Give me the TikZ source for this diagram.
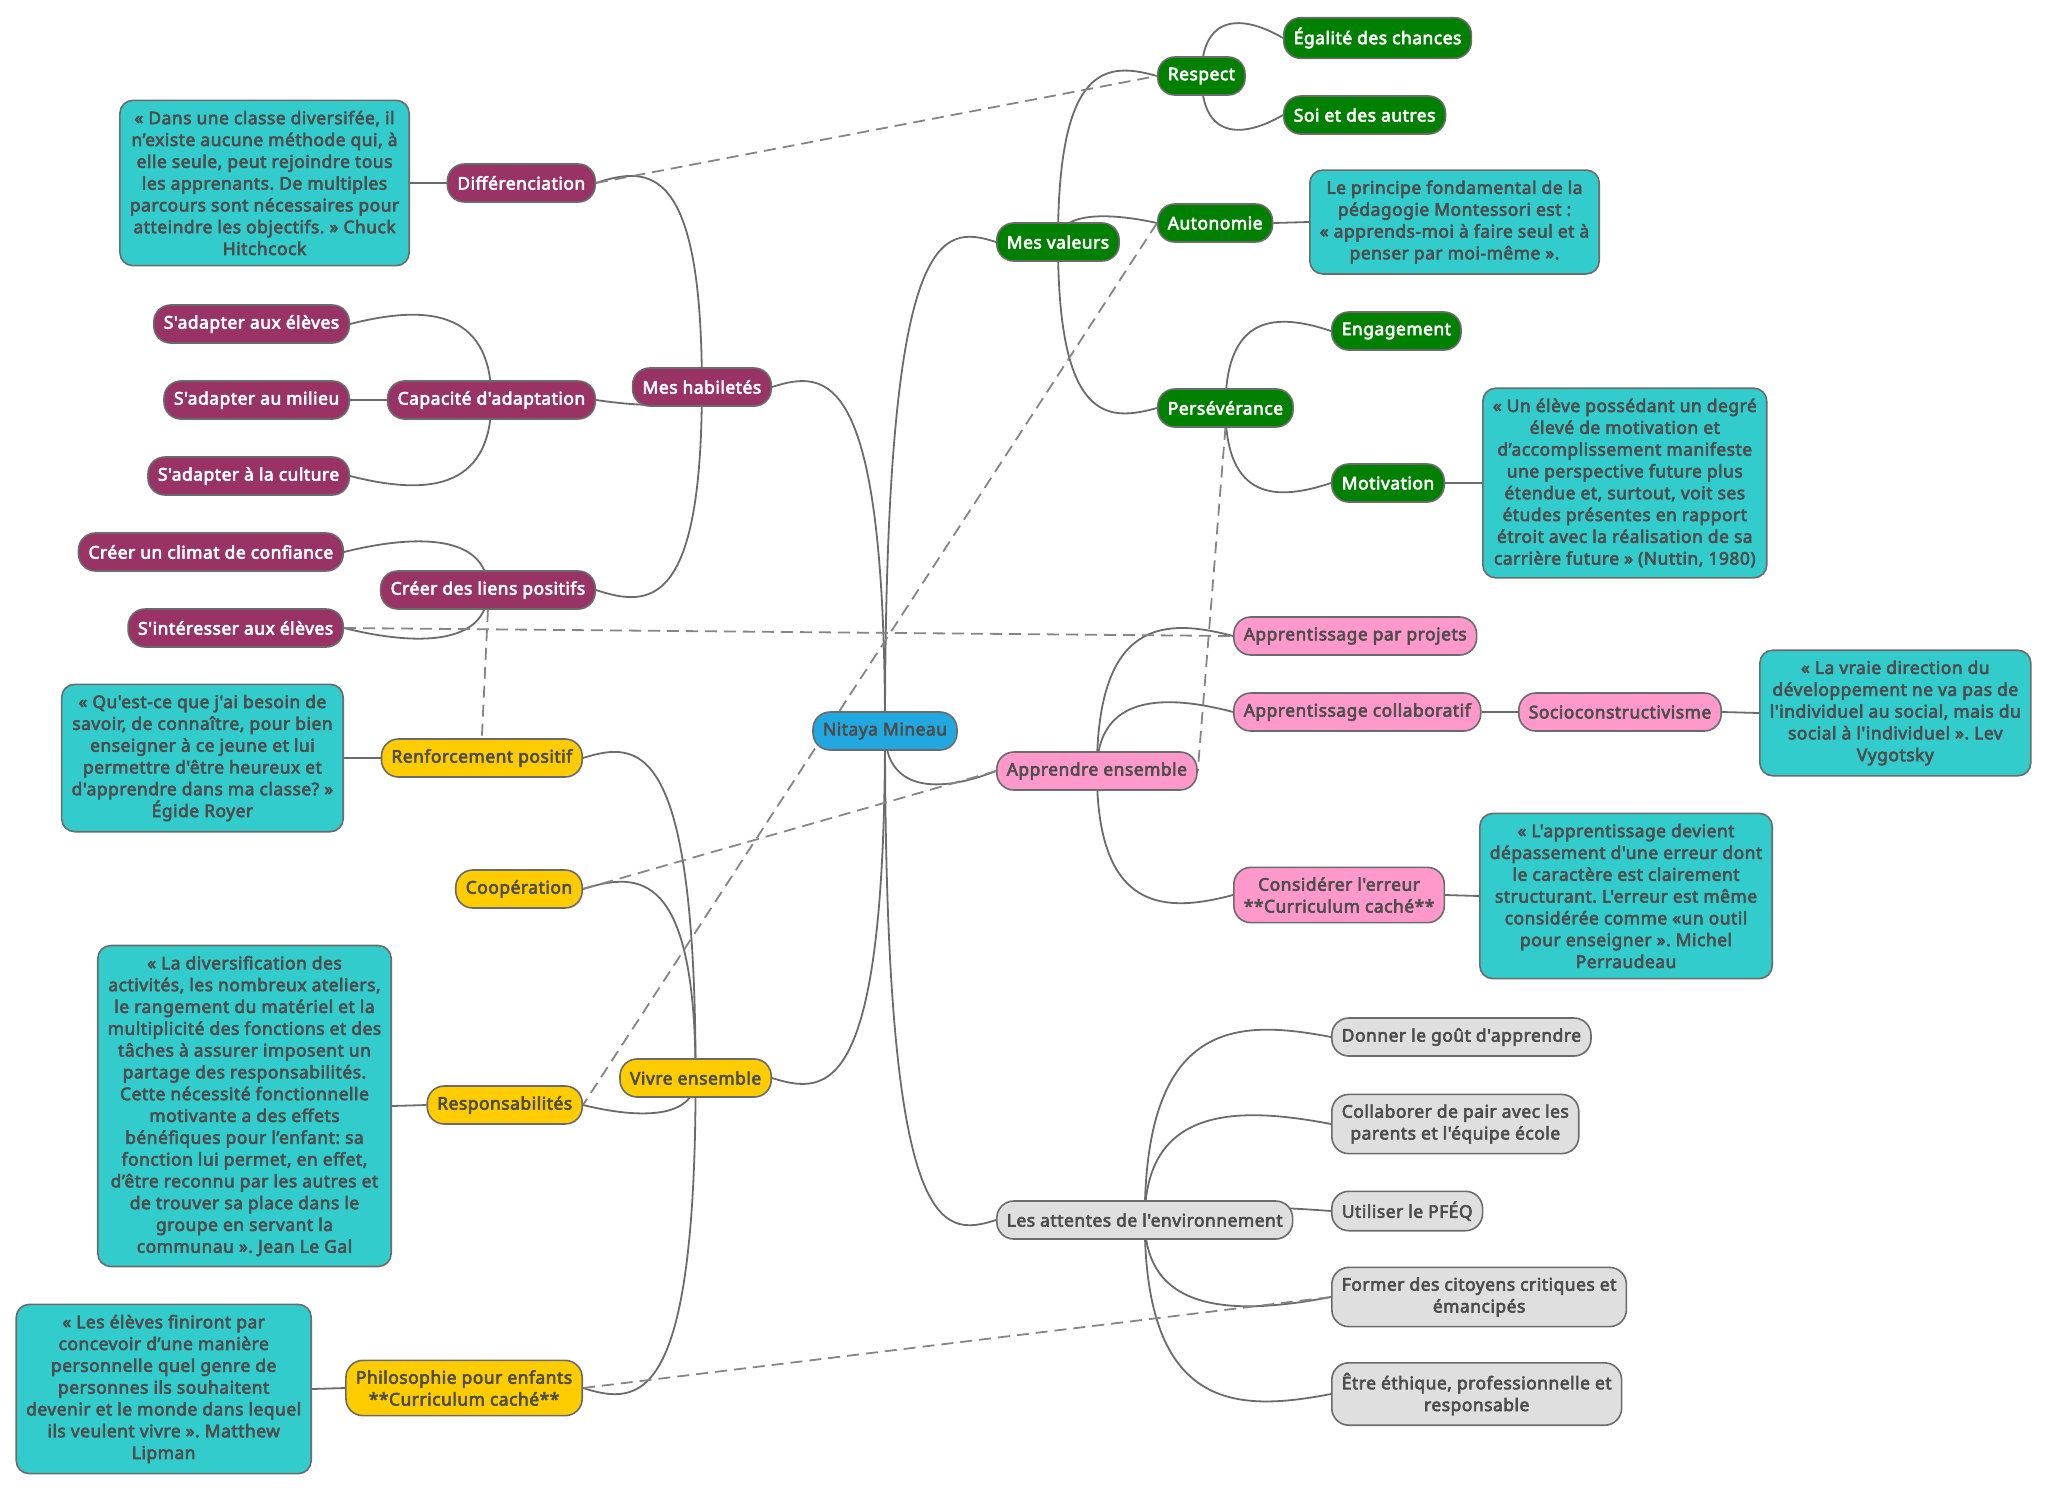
\documentclass[tikz,border=0pt]{standalone}
\usepackage{fontspec}
\newfontfamily\mmfont{Noto Sans}[AutoFakeBold=3.5, LetterSpace=3]
\usetikzlibrary{backgrounds,positioning}

\definecolor{linec}{HTML}{6B6B6B}
\definecolor{dashc}{HTML}{858585}
\definecolor{txtc}{HTML}{4D4D4D}
\definecolor{ccen}{HTML}{22A8E0}
\definecolor{cval}{HTML}{008000}
\definecolor{chab}{HTML}{993366}
\definecolor{cviv}{HTML}{FFCC00}
\definecolor{capp}{HTML}{FF99CC}
\definecolor{catt}{HTML}{DFDFDF}
\definecolor{ccit}{HTML}{33CCCC}

\tikzset{
	mm/.style={draw=linec, line width=1.6pt, rounded corners=17pt, inner xsep=10pt, inner ysep=10pt,
		minimum height=38pt, align=center, text=txtc, font=\mmfont\bfseries\fontsize{17.4}{21.8}\selectfont\frenchspacing},
	centre/.style={mm, fill=ccen},
	valeur/.style={mm, fill=cval, text=white},
	habilete/.style={mm, fill=chab, text=white},
	vivre/.style={mm, fill=cviv},
	apprendre/.style={mm, fill=capp},
	attente/.style={mm, fill=catt},
	citation/.style={mm, fill=ccit, rounded corners=13pt, inner ysep=10.5pt},
	lien/.style={draw=linec, line width=1.8pt},
	pointille/.style={draw=dashc, line width=1.8pt, dash pattern=on 12pt off 7pt},
}

\begin{document}
\begin{tikzpicture}[x=1pt, y=1pt]
	\useasboundingbox (0,0) rectangle (2048,-1492);

	\node[centre] (nm) at (885,-731) {Nitaya Mineau};

	\node[valeur, anchor=west] (mv) at (996,-242) {Mes valeurs};
	\node[valeur, anchor=west] (resp) at (1157,-76) {Respect};
	\node[valeur, anchor=west] (egal) at (1283,-38) {Égalité des chances};
	\node[valeur, anchor=west] (soi) at (1283,-115) {Soi et des autres};
	\node[valeur, anchor=west] (auto) at (1157,-223) {Autonomie};
	\node[citation, anchor=west] (qmont) at (1309,-222) {Le principe fondamental de la\\pédagogie Montessori est :\\« apprends-moi à faire seul et à\\penser par moi-même ».};
	\node[valeur, anchor=west] (pers) at (1157,-408) {Persévérance};
	\node[valeur, anchor=west] (enga) at (1331,-331) {Engagement};
	\node[valeur, anchor=west] (moti) at (1331,-483) {Motivation};
	\node[citation, anchor=west] (qnut) at (1482,-483) {« Un élève possédant un degré\\élevé de motivation et\\d’accomplissement manifeste\\une perspective future plus\\étendue et, surtout, voit ses\\études présentes en rapport\\étroit avec la réalisation de sa\\carrière future » (Nuttin, 1980)};

	\node[apprendre, anchor=west] (ae) at (996,-771) {Apprendre ensemble};
	\node[apprendre, anchor=west] (proj) at (1233,-636) {Apprentissage par projets};
	\node[apprendre, anchor=west] (collab) at (1233,-712) {Apprentissage collaboratif};
	\node[apprendre, anchor=west] (socio) at (1518,-712) {Socioconstructivisme};
	\node[citation, anchor=west] (qvyg) at (1759,-713) {« La vraie direction du\\développement ne va pas de\\l'individuel au social, mais du\\social à l'individuel ». Lev\\Vygotsky};
	\node[apprendre, anchor=west] (err) at (1233,-895) {Considérer l'erreur\\**Curriculum caché**};
	\node[citation, anchor=west] (qper) at (1479,-896) {« L'apprentissage devient\\dépassement d'une erreur dont\\le caractère est clairement\\structurant. L'erreur est même\\considérée comme «un outil\\pour enseigner ». Michel\\Perraudeau};

	\node[attente, anchor=west] (env) at (996,-1220) {Les attentes de l'environnement};
	\node[attente, anchor=west] (gout) at (1331,-1037) {Donner le goût d'apprendre};
	\node[attente, anchor=west] (pair) at (1331,-1124) {Collaborer de pair avec les\\parents et l'équipe école};
	\node[attente, anchor=west] (pfeq) at (1331,-1211) {Utiliser le PFÉQ};
	\node[attente, anchor=west] (citoy) at (1331,-1297) {Former des citoyens critiques et\\émancipés};
	\node[attente, anchor=west] (ethi) at (1331,-1394) {Être éthique, professionnelle et\\responsable};

	\node[habilete, anchor=east] (mh) at (772,-387) {Mes habiletés};
	\node[habilete, anchor=east] (diff) at (596,-183) {Différenciation};
	\node[citation, anchor=east] (qhit) at (410,-183) {« Dans une classe diversifée, il\\n’existe aucune méthode qui, à\\elle seule, peut rejoindre tous\\les apprenants. De multiples\\parcours sont nécessaires pour\\atteindre les objectifs. » Chuck\\Hitchcock};
	\node[habilete, anchor=east] (adap) at (596,-400) {Capacité d'adaptation};
	\node[habilete, anchor=east] (elev) at (350,-324) {S'adapter aux élèves};
	\node[habilete, anchor=east] (mil) at (350,-400) {S'adapter au milieu};
	\node[habilete, anchor=east] (cult) at (350,-476) {S'adapter à la culture};
	\node[habilete, anchor=east] (liens) at (596,-590) {Créer des liens positifs};
	\node[habilete, anchor=east] (clim) at (344,-552) {Créer un climat de confiance};
	\node[habilete, anchor=east] (inter) at (344,-628) {S'intéresser aux élèves};

	\node[vivre, anchor=east] (ve) at (772,-1078) {Vivre ensemble};
	\node[vivre, anchor=east] (renf) at (583,-758) {Renforcement positif};
	\node[citation, anchor=east] (qroy) at (344,-758) {« Qu'est-ce que j'ai besoin de\\savoir, de connaître, pour bien\\enseigner à ce jeune et lui\\permettre d'être heureux et\\d'apprendre dans ma classe? »\\Égide Royer};
	\node[vivre, anchor=east] (coop) at (583,-889) {Coopération};
	\node[vivre, anchor=east] (respo) at (583,-1105) {Responsabilités};
	\node[citation, anchor=east] (qgal) at (392,-1106) {« La diversification des\\activités, les nombreux ateliers,\\le rangement du matériel et la\\multiplicité des fonctions et des\\tâches à assurer imposent un\\partage des responsabilités.\\Cette nécessité fonctionnelle\\motivante a des effets\\bénéfiques pour l’enfant: sa\\fonction lui permet, en effet,\\d’être reconnu par les autres et\\de trouver sa place dans le\\groupe en servant la\\communau ». Jean Le Gal};
	\node[vivre, anchor=east] (philo) at (583,-1388) {Philosophie pour enfants\\**Curriculum caché**};
	\node[citation, anchor=east] (qlip) at (312,-1389) {« Les élèves finiront par\\concevoir d’une manière\\personnelle quel genre de\\personnes ils souhaitent\\devenir et le monde dans lequel\\ils veulent vivre ». Matthew\\Lipman};

	\begin{pgfonlayer}{background}
		% 枝をつなぐ
		\draw[lien] (nm.center) .. controls +(0,507) and +(-56,18) .. (mv.west);
		\draw[lien] (nm.center) .. controls +(0,362) and +(56,18) .. (mh.east);
		\draw[lien] (nm.center) .. controls +(0,-62) and +(-56,-22) .. (ae.west);
		\draw[lien] (nm.center) .. controls +(0,-365) and +(57,-18) .. (ve.east);
		\draw[lien] (nm.center) .. controls +(0,-507) and +(-56,-18) .. (env.west);

		\draw[lien] (mv.center) .. controls +(0,180) and +(-50,14) .. (resp.west);
		\draw[lien] (mv.center) .. controls +(0,30) and +(-50,11) .. (auto.west);
		\draw[lien] (mv.center) .. controls +(0,-180) and +(-50,-14) .. (pers.west);
		\draw[lien] (resp.center) .. controls +(0,62) and +(-41,24) .. (egal.west);
		\draw[lien] (resp.center) .. controls +(0,-63) and +(-41,-24) .. (soi.west);
		\draw[lien] (pers.center) .. controls +(0,95) and +(-54,18) .. (enga.west);
		\draw[lien] (pers.center) .. controls +(0,-93) and +(-54,-18) .. (moti.west);

		\draw[lien] (ae.center) .. controls +(0,153) and +(-68,18) .. (proj.west);
		\draw[lien] (ae.center) .. controls +(0,77) and +(-68,18) .. (collab.west);
		\draw[lien] (ae.center) .. controls +(0,-142) and +(-68,-18) .. (err.west);

		\draw[lien] (env.center) .. controls +(0,201) and +(-94,18) .. (gout.west);
		\draw[lien] (env.center) .. controls +(0,114) and +(-94,18) .. (pair.west);
		\draw[lien] (env.center) .. controls +(0,16) and +(-94,7) .. (pfeq.west);
		\draw[lien] (env.center) .. controls +(0,-95) and +(-94,-18) .. (citoy.west);
		\draw[lien] (env.center) .. controls +(0,-192) and +(-94,-18) .. (ethi.west);

		\draw[lien] (mh.center) .. controls +(0,222) and +(54,18) .. (diff.east);
		\draw[lien] (mh.center) .. controls +(0,-21) and +(54,-8) .. (adap.east);
		\draw[lien] (mh.center) .. controls +(0,-221) and +(54,-18) .. (liens.east);
		\draw[lien] (adap.center) .. controls +(0,94) and +(71,18) .. (elev.east);
		\draw[lien] (adap.center) -- (mil.east);
		\draw[lien] (adap.center) .. controls +(0,-94) and +(71,-18) .. (cult.east);
		\draw[lien] (liens.center) .. controls +(0,56) and +(72,18) .. (clim.east);
		\draw[lien] (liens.center) .. controls +(0,-56) and +(72,-18) .. (inter.east);

		\draw[lien] (ve.center) .. controls +(0,338) and +(57,18) .. (renf.east);
		\draw[lien] (ve.center) .. controls +(0,207) and +(57,18) .. (coop.east);
		\draw[lien] (ve.center) .. controls +(0,-41) and +(57,-14) .. (respo.east);
		\draw[lien] (ve.center) .. controls +(0,-328) and +(57,-18) .. (philo.east);

		% 引用へ
		\draw[lien] (diff.west) -- (qhit.east);
		\draw[lien] (auto.east) -- (qmont.west);
		\draw[lien] (moti.east) -- (qnut.west);
		\draw[lien] (collab.east) -- (socio.west);
		\draw[lien] (socio.east) -- (qvyg.west);
		\draw[lien] (err.east) -- (qper.west);
		\draw[lien] (renf.west) -- (qroy.east);
		\draw[lien] (respo.west) -- (qgal.east);
		\draw[lien] (philo.west) -- (qlip.east);

		% 点線
		\draw[pointille] (diff.east) -- (resp.west);
		\draw[pointille] (auto.west) -- (respo.east);
		\draw[pointille] (inter.east) -- (proj.west);
		\draw[pointille] (liens.south) -- (renf.north);
		\draw[pointille] (pers.south) -- (ae.east);
		\draw[pointille] (coop.east) -- (ae.west);
		\draw[pointille] (philo.east) -- (citoy.west);
	\end{pgfonlayer}

\end{tikzpicture}
\end{document}
